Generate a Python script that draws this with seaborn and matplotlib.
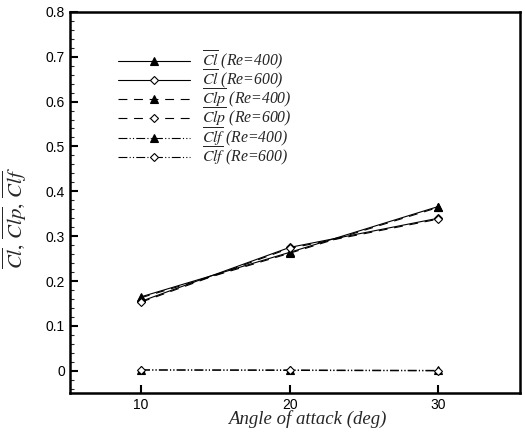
import matplotlib
matplotlib.use("Agg")
import matplotlib.pyplot as plt
import seaborn as sns
import pandas as pd
from matplotlib.ticker import MultipleLocator

# data
angles = [10, 20, 30]
cl_re400 = [0.165, 0.264, 0.366]
cl_re600 = [0.155, 0.275, 0.340]
clp_re400 = [0.163, 0.262, 0.364]
clp_re600 = [0.153, 0.273, 0.338]
clf_re400 = [0.002, 0.002, 0.001]
clf_re600 = [0.002, 0.001, 0.000]

series = [
    (r"$\overline{Cl}$ (Re=400)", cl_re400, "-", "^", "black"),
    (r"$\overline{Cl}$ (Re=600)", cl_re600, "-", "D", "white"),
    (r"$\overline{Clp}$ (Re=400)", clp_re400, (0, (8, 6)), "^", "black"),
    (r"$\overline{Clp}$ (Re=600)", clp_re600, (0, (8, 6)), "D", "white"),
    (r"$\overline{Clf}$ (Re=400)", clf_re400, (0, (8, 2, 1, 2, 1, 2)), "^", "black"),
    (r"$\overline{Clf}$ (Re=600)", clf_re600, (0, (8, 2, 1, 2, 1, 2)), "D", "white"),
]

sns.set_theme(style="ticks")
plt.rcParams["font.family"] = ["Liberation Sans", "DejaVu Sans"]
plt.rcParams["mathtext.fontset"] = "stix"

fig = plt.figure(figsize=(5.25, 4.37), dpi=100)
ax = fig.add_axes([0.133, 0.10, 0.857, 0.873])

for label, vals, ls, mk, fc in series:
    df = pd.DataFrame({"angle": angles, "val": vals})
    sns.lineplot(data=df, x="angle", y="val", ax=ax, color="black",
                 linewidth=0.8, linestyle=ls, marker=mk, markersize=6 if mk == "^" else 4.5,
                 markerfacecolor=fc, markeredgecolor="black", markeredgewidth=0.8,
                 label=label)

ax.set_xlim(5.2, 35.5)
ax.set_ylim(-0.05, 0.8)
ax.set_xticks([10, 20, 30])
ax.yaxis.set_minor_locator(MultipleLocator(0.02))
ax.set_yticks([0, 0.1, 0.2, 0.3, 0.4, 0.5, 0.6, 0.7, 0.8])
ax.set_yticklabels(["0", "0.1", "0.2", "0.3", "0.4", "0.5", "0.6", "0.7", "0.8"])
ax.tick_params(axis="both", which="major", direction="in", length=6, width=1.5,
               labelsize=10, colors="black")
ax.tick_params(axis="y", which="minor", direction="in", length=3, width=0.8)
ax.tick_params(top=False, right=False)
for sp in ax.spines.values():
    sp.set_linewidth(1.8)
    sp.set_color("black")

ax.set_xlabel("Angle of attack (deg)", family="Liberation Serif", style="italic",
              fontsize=13.5)
ax.xaxis.set_label_coords(0.527, -0.045)
ax.set_ylabel(r"$\overline{Cl},\, \overline{Clp},\, \overline{Clf}$", fontsize=15)
ax.yaxis.set_label_coords(-0.09, 0.46)

leg = ax.legend(loc="upper left", bbox_to_anchor=(0.075, 0.94), frameon=False,
                handlelength=4.6, handletextpad=0.8, labelspacing=-0.25,
                prop={"family": "Liberation Serif", "style": "italic", "size": 11.3})

fig.savefig("out.png", dpi=100)
